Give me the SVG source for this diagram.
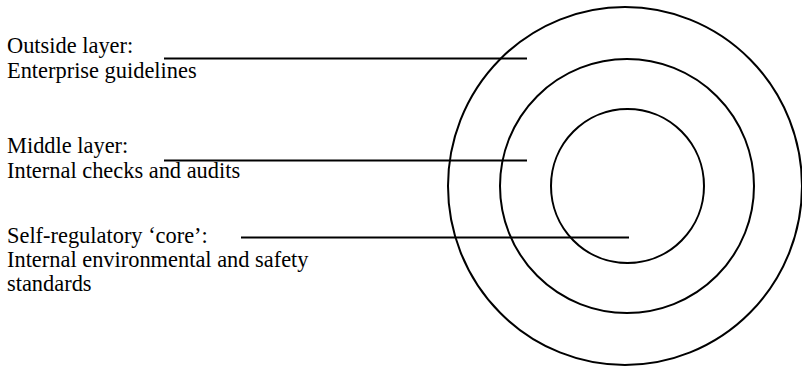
<svg xmlns="http://www.w3.org/2000/svg" width="802" height="367" viewBox="0 0 802 367">
<style>
.t{font-family:"Liberation Serif","Times New Roman",serif;font-size:22.4px;fill:#000}
.c{fill:none;stroke:#000;stroke-width:2}
.l{stroke:#000;stroke-width:2}
</style>
<rect width="802" height="367" fill="#fff"/>
<g id="outer-ring"><ellipse class="c" cx="625" cy="186" rx="177" ry="179"/></g>
<g id="middle-ring"><ellipse class="c" cx="627" cy="186" rx="127" ry="127"/></g>
<g id="core"><ellipse class="c" cx="627.5" cy="186" rx="76.5" ry="77"/></g>
<g id="label-outside"><text class="t" x="7" y="53">Outside layer:</text><text class="t" x="7" y="78">Enterprise guidelines</text></g>
<g id="label-middle"><text class="t" x="7" y="153">Middle layer:</text><text class="t" x="7" y="178">Internal checks and audits</text></g>
<g id="label-core"><text class="t" x="7" y="243">Self-regulatory ‘core’:</text><text class="t" x="7" y="267">Internal environmental and safety</text><text class="t" x="7" y="291">standards</text></g>
<g id="connectors">
<line class="l" x1="164" y1="58.5" x2="527" y2="58.5"/>
<line class="l" x1="164" y1="160.5" x2="527" y2="160.5"/>
<line class="l" x1="241" y1="237.5" x2="629" y2="237.5"/>
</g>
</svg>
